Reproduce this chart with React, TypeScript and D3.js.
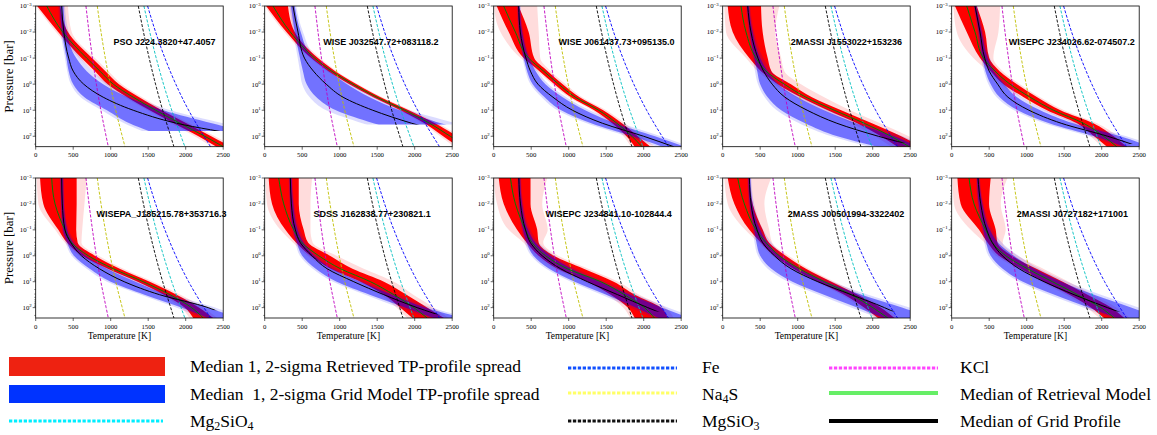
import React from 'react';
import * as d3 from 'd3';

// ---------- data ----------
const NAMES = [
  'PSO J224.3820+47.4057',
  'WISE J032547.72+083118.2',
  'WISE J061437.73+095135.0',
  '2MASSI J1553022+153236',
  'WISEPC J234026.62-074507.2',
  'WISEPA_J185215.78+353716.3',
  'SDSS J162838.77+230821.1',
  'WISEPC J234841.10-102844.4',
  '2MASS J00501994-3322402',
  '2MASSI J0727182+171001',
];

// log10 pressure levels (bar) at which profiles were read
const LOGP = [-3, -2, -1, -0.5, 0, 0.5, 1, 1.5, 2, 2.4];

// Retrieved TP profile (K)
const RED_MED = [
  [147, 360, 680, 857, 1035, 1301, 1600, 1923, 2255, 2500],
  [111, 342, 666, 893, 1177, 1497, 1865, 2198, 2474, 2700],
  [133, 289, 466, 666, 866, 1088, 1399, 1643, 1843, 1976],
  [244, 311, 444, 577, 821, 1110, 1488, 1887, 2243, 2487],
  [200, 311, 423, 578, 778, 1045, 1357, 1757, 2024, 2200],
  [213, 258, 391, 480, 702, 1035, 1434, 1790, 2078, 2234],
  [187, 254, 387, 498, 721, 1010, 1410, 1721, 1988, 2166],
  [223, 290, 424, 513, 692, 982, 1429, 1741, 2009, 2143],
  [200, 289, 445, 578, 756, 1023, 1357, 1713, 2002, 2202],
  [231, 298, 454, 543, 721, 1010, 1343, 1677, 1988, 2166],
];
const RED_LO1 = [
  [20, 300, 610, 790, 960, 1220, 1520, 1840, 2170, 2410],
  [20, 290, 620, 850, 1130, 1450, 1810, 2130, 2380, 2580],
  [40, 200, 400, 610, 810, 1030, 1340, 1580, 1770, 1880],
  [67, 133, 355, 511, 733, 1040, 1400, 1790, 2110, 2330],
  [44, 200, 378, 520, 690, 960, 1270, 1670, 1900, 2070],
  [58, 102, 302, 420, 620, 960, 1360, 1710, 1990, 2100],
  [53, 98, 276, 420, 610, 880, 1276, 1590, 1810, 1970],
  [67, 134, 312, 440, 600, 850, 1250, 1560, 1790, 1880],
  [67, 156, 356, 510, 690, 940, 1270, 1620, 1890, 2070],
  [76, 120, 365, 480, 630, 920, 1230, 1570, 1860, 2030],
];
const RED_HI1 = [
  [330, 430, 750, 930, 1110, 1380, 1680, 2010, 2340, 2600],
  [310, 400, 710, 940, 1225, 1545, 1920, 2270, 2570, 2820],
  [330, 466, 540, 720, 920, 1145, 1460, 1710, 1920, 2090],
  [511, 533, 600, 650, 910, 1190, 1580, 1990, 2380, 2650],
  [333, 445, 500, 640, 870, 1140, 1450, 1890, 2160, 2330],
  [546, 546, 540, 560, 790, 1120, 1520, 1880, 2180, 2367],
  [454, 454, 520, 580, 870, 1170, 1590, 1890, 2170, 2390],
  [491, 491, 580, 600, 800, 1200, 1600, 1880, 2230, 2320],
  [356, 400, 534, 620, 840, 1110, 1450, 1800, 2110, 2290],
  [520, 498, 587, 610, 800, 1130, 1480, 1810, 2130, 2300],
];
const RED_LO2 = [
  [0, 270, 580, 760, 930, 1190, 1490, 1800, 2120, 2350],
  [0, 260, 600, 830, 1110, 1430, 1790, 2100, 2340, 2530],
  [0, 90, 360, 580, 780, 1000, 1310, 1550, 1730, 1830],
  [22, 44, 311, 466, 690, 980, 1340, 1720, 2030, 2250],
  [22, 67, 289, 480, 650, 920, 1230, 1620, 1850, 2000],
  [13, 36, 260, 390, 580, 920, 1320, 1670, 1940, 2050],
  [9, 31, 210, 380, 570, 840, 1230, 1540, 1760, 1900],
  [0, 45, 200, 400, 560, 810, 1200, 1510, 1730, 1820],
  [22, 67, 300, 480, 660, 910, 1240, 1580, 1850, 2020],
  [9, 31, 255, 440, 590, 880, 1190, 1520, 1800, 1970],
];
const RED_HI2 = [
  [430, 480, 790, 970, 1150, 1420, 1720, 2050, 2390, 2650],
  [400, 440, 740, 960, 1245, 1570, 1950, 2310, 2620, 2880],
  [580, 600, 620, 760, 960, 1180, 1500, 1750, 1970, 2150],
  [755, 700, 780, 822, 1044, 1354, 1700, 2100, 2480, 2750],
  [645, 623, 556, 680, 910, 1180, 1500, 1940, 2220, 2400],
  [680, 650, 620, 610, 840, 1170, 1570, 1930, 2240, 2420],
  [632, 610, 610, 640, 960, 1320, 1720, 1980, 2260, 2450],
  [714, 647, 720, 660, 860, 1260, 1660, 1940, 2290, 2400],
  [645, 556, 620, 660, 880, 1150, 1490, 1850, 2160, 2350],
  [743, 654, 720, 680, 880, 1220, 1560, 1880, 2200, 2370],
];

// Grid model TP profile (K)
const BLUE_MED = [
  [346, 375, 440, 500, 640, 900, 1300, 1880, 2800, 3400],
  [377, 444, 530, 650, 820, 1045, 1440, 1960, 2600, 3000],
  [333, 355, 430, 490, 590, 790, 1050, 1450, 2000, 2400],
  [333, 377, 470, 545, 660, 830, 1126, 1522, 2076, 2600],
  [311, 378, 440, 500, 613, 750, 1030, 1460, 2080, 2500],
  [346, 355, 390, 470, 610, 850, 1180, 1650, 2300, 2600],
  [342, 356, 409, 476, 632, 832, 1188, 1588, 2033, 2450],
  [335, 357, 424, 491, 647, 893, 1250, 1652, 2054, 2400],
  [356, 378, 458, 534, 690, 912, 1268, 1713, 2157, 2450],
  [351, 387, 467, 543, 676, 899, 1232, 1632, 2077, 2450],
];
const BLUE_LO1 = [
  [320, 350, 410, 440, 500, 650, 950, 1250, 1700, 2100],
  [350, 400, 470, 510, 560, 690, 950, 1450, 2000, 2400],
  [320, 340, 400, 445, 520, 680, 900, 1300, 1850, 2250],
  [320, 360, 420, 460, 500, 600, 780, 1100, 1530, 2060],
  [300, 360, 410, 450, 520, 640, 880, 1300, 1900, 2300],
  [330, 340, 365, 420, 510, 720, 1000, 1450, 1950, 2300],
  [330, 340, 380, 430, 500, 680, 960, 1400, 1880, 2250],
  [325, 340, 390, 440, 530, 740, 1080, 1500, 1900, 2200],
  [340, 360, 420, 450, 500, 650, 930, 1350, 1800, 2150],
  [335, 360, 420, 460, 520, 680, 950, 1370, 1830, 2200],
];
const BLUE_HI1 = [
  [370, 410, 540, 680, 900, 1230, 1700, 2350, 3000, 3500],
  [400, 480, 640, 860, 1100, 1400, 1800, 2350, 2900, 3300],
  [350, 380, 470, 560, 690, 920, 1220, 1620, 2150, 2550],
  [350, 400, 500, 600, 740, 1000, 1350, 1780, 2290, 2600],
  [330, 400, 480, 560, 700, 870, 1180, 1620, 2250, 2650],
  [365, 375, 420, 500, 660, 950, 1330, 1750, 2300, 2700],
  [360, 380, 440, 520, 660, 900, 1280, 1700, 2150, 2650],
  [355, 380, 460, 560, 760, 1040, 1420, 1820, 2250, 2600],
  [370, 400, 500, 600, 760, 1010, 1380, 1850, 2400, 2800],
  [365, 410, 510, 620, 830, 1100, 1460, 1900, 2400, 2750],
];
const BLUE_LO2 = [
  [300, 330, 390, 420, 470, 600, 880, 1180, 1600, 2000],
  [330, 380, 440, 470, 500, 600, 820, 1300, 1800, 2200],
  [310, 330, 385, 425, 490, 640, 850, 1240, 1780, 2180],
  [310, 345, 400, 430, 470, 560, 720, 1020, 1450, 1950],
  [290, 345, 390, 430, 490, 600, 830, 1240, 1830, 2230],
  [320, 330, 350, 400, 480, 680, 950, 1400, 1880, 2230],
  [320, 330, 365, 410, 470, 640, 910, 1340, 1800, 2180],
  [315, 330, 370, 415, 500, 700, 1030, 1440, 1830, 2130],
  [330, 345, 400, 425, 470, 600, 870, 1280, 1720, 2080],
  [325, 345, 400, 435, 490, 640, 900, 1300, 1760, 2130],
];
const BLUE_HI2 = [
  [390, 440, 600, 760, 980, 1330, 1800, 2500, 3200, 3700],
  [420, 510, 690, 920, 1170, 1480, 1920, 2550, 3100, 3500],
  [360, 395, 490, 590, 730, 970, 1280, 1700, 2230, 2620],
  [365, 420, 540, 650, 800, 1070, 1430, 1880, 2400, 2700],
  [345, 420, 510, 600, 750, 930, 1250, 1700, 2330, 2750],
  [375, 385, 440, 540, 720, 1010, 1400, 1830, 2400, 2800],
  [370, 395, 470, 560, 710, 960, 1350, 1780, 2230, 2750],
  [365, 395, 490, 600, 810, 1100, 1490, 1900, 2330, 2700],
  [380, 420, 540, 650, 820, 1080, 1460, 1940, 2500, 2900],
  [375, 425, 545, 670, 890, 1170, 1540, 1990, 2500, 2850],
];
// deepest log10 P covered by the grid band / grid median line
const BLUE_CUT = [1.8, 1.55, 2.4, 2.4, 2.4, 2.4, 2.4, 2.4, 2.4, 2.4];
const GRID_END = [1.8, 1.55, 2.4, 2.25, 2.3, 2.1, 2.26, 2.15, 2.15, 2.15];

// condensation curves (K) at log10 P levels
const COND_LOGP = [-3, -2, -1, 0, 1, 2, 2.4];
const COND_KCL = [670, 711, 757, 809, 869, 939, 968];
const COND_NA2S = [821, 871, 928, 993, 1067, 1154, 1190];
const COND_MGSIO3 = [1368, 1437, 1513, 1598, 1693, 1800, 1843];
const COND_MG2SIO4 = [1443, 1521, 1607, 1704, 1814, 1938, 1989];
const COND_FE = [1492, 1599, 1723, 1868, 2039, 2244, 2331];

const X_TICKS = [0, 500, 1000, 1500, 2000, 2500];
const Y_DECADES = [-3, -2, -1, 0, 1, 2];

// ---------- layout ----------
const W = 1157;
const H = 435;
const COL_LEFT0 = 35.7;
const COL_STEP = 229;
const PW = 187.5;
const ROW_TOP = [6, 178];
const ROW_H = [140.7, 140];
const TITLE_FRAC = [0.687, 0.62, 0.655, 0.66, 0.64, 0.671, 0.573, 0.613, 0.658, 0.644];

const SERIF = '"Liberation Serif", "Times New Roman", serif';
const SANS = '"Liberation Sans", Arial, sans-serif';

const condSeries = [
  { t: COND_KCL, color: '#bf00bf' },
  { t: COND_NA2S, color: '#bfbf00' },
  { t: COND_MGSIO3, color: '#000000' },
  { t: COND_MG2SIO4, color: '#00bfbf' },
  { t: COND_FE, color: '#0000ff' },
];

function Panel({ idx }: { idx: number }) {
  const col = idx % 5;
  const row = Math.floor(idx / 5);
  const x0 = COL_LEFT0 + COL_STEP * col;
  const y0 = ROW_TOP[row];
  const h = ROW_H[row];
  const xs = d3.scaleLinear().domain([0, 2500]).range([x0, x0 + PW]);
  const ys = d3.scaleLinear().domain([-3, 2.4]).range([y0, y0 + h]);

  const band = (lo: number[], hi: number[]) =>
    d3
      .area<number>()
      .y((d) => ys(d))
      .x0((_, i) => xs(lo[i]))
      .x1((_, i) => xs(hi[i]))
      .curve(d3.curveMonotoneY)(LOGP) || '';
  const line = (t: number[], lp: number[]) =>
    d3
      .line<number>()
      .y((d) => ys(d))
      .x((_, i) => xs(t[i]))
      .curve(d3.curveMonotoneY)(lp) || '';

  const clip = `clip-${idx}`;
  const clipB = `clipb-${idx}`;
  const clipG = `clipg-${idx}`;

  const minor: number[] = [];
  Y_DECADES.forEach((d) => {
    for (let m = 2; m <= 9; m++) {
      const v = d + Math.log10(m);
      if (v <= 2.4) minor.push(v);
    }
  });

  return (
    <g>
      <defs>
        <clipPath id={clip}>
          <rect x={x0} y={y0} width={PW} height={h} />
        </clipPath>
        <clipPath id={clipB}>
          <rect x={x0} y={y0} width={PW} height={ys(BLUE_CUT[idx]) - y0} />
        </clipPath>
        <clipPath id={clipG}>
          <rect x={x0} y={y0} width={PW} height={ys(GRID_END[idx]) - y0} />
        </clipPath>
      </defs>
      <g clipPath={`url(#${clip})`}>
        <path d={band(RED_LO2[idx], RED_HI2[idx])} fill="#ffdcdc" />
        <path d={band(RED_LO1[idx], RED_HI1[idx])} fill="#ff0000" />
        <g clipPath={`url(#${clipB})`}>
          <path d={band(BLUE_LO2[idx], BLUE_HI2[idx])} fill="#0000ff" fillOpacity={0.14} />
          <path d={band(BLUE_LO1[idx], BLUE_HI1[idx])} fill="#0000ff" fillOpacity={0.48} />
        </g>
        {condSeries.map((c, k) => (
          <path
            key={k}
            d={line(c.t, COND_LOGP)}
            fill="none"
            stroke={c.color}
            strokeWidth={0.9}
            strokeDasharray="3,1.6"
          />
        ))}
        <path d={line(RED_MED[idx], LOGP)} fill="none" stroke="#008000" strokeWidth={1} />
        <g clipPath={`url(#${clipG})`}>
          <path d={line(BLUE_MED[idx], LOGP)} fill="none" stroke="#000000" strokeWidth={1} />
        </g>
      </g>
      <rect x={x0} y={y0} width={PW} height={h} fill="none" stroke="#000" strokeWidth={0.8} />
      {X_TICKS.map((t) => (
        <g key={t}>
          <line x1={xs(t)} x2={xs(t)} y1={y0 + h} y2={y0 + h + 3} stroke="#000" strokeWidth={0.6} />
          <text x={xs(t)} y={y0 + h + 10.5} fontSize={6.8} fontFamily={SERIF} textAnchor="middle">
            {t}
          </text>
        </g>
      ))}
      {Y_DECADES.map((d) => (
        <g key={d}>
          <line x1={x0 - 3} x2={x0} y1={ys(d)} y2={ys(d)} stroke="#000" strokeWidth={0.6} />
          <text x={x0 - 4} y={ys(d) + 2.4} fontSize={6.8} fontFamily={SERIF} textAnchor="end">
            10
            <tspan dy={-2.8} fontSize={4.8}>
              {d < 0 ? '\u2212' + Math.abs(d) : String(d)}
            </tspan>
          </text>
        </g>
      ))}
      {minor.map((v, k) => (
        <line key={k} x1={x0 - 1.6} x2={x0} y1={ys(v)} y2={ys(v)} stroke="#000" strokeWidth={0.4} />
      ))}
      <text
        x={x0 + PW * TITLE_FRAC[idx]}
        y={y0 + 39}
        fontSize={9}
        fontWeight="bold"
        fontFamily={SANS}
        textAnchor="middle"
      >
        {NAMES[idx]}
      </text>
      {col === 0 && (
        <text
          transform={`translate(${x0 - 23},${y0 + h / 2}) rotate(-90)`}
          fontSize={13}
          fontFamily={SERIF}
          textAnchor="middle"
        >
          Pressure [bar]
        </text>
      )}
      {row === 1 && (
        <text x={x0 + PW / 2 - 10} y={y0 + h + 21} fontSize={9.5} fontFamily={SERIF} textAnchor="middle">
          Temperature [K]
        </text>
      )}
    </g>
  );
}

function Legend() {
  const fs = 17.5;
  return (
    <g fontFamily={SERIF} fontSize={fs} fill="#000">
      <rect x={9} y={357} width={156} height={19} fill="#ee2211" />
      <text x={190} y={372}>Median 1, 2-sigma Retrieved TP-profile spread</text>
      <rect x={9} y={385} width={156} height={18} fill="#0033ff" />
      <text x={190} y={400} style={{ whiteSpace: 'pre' }}>
        {'Median  1, 2-sigma Grid Model TP-profile spread'}
      </text>
      <line x1={9} x2={163} y1={421} y2={421} stroke="#00eeff" strokeWidth={3} strokeDasharray="3.3,1.6" />
      <text x={190} y={427}>
        Mg<tspan fontSize={12} dy={3}>2</tspan>
        <tspan dy={-3}>SiO</tspan>
        <tspan fontSize={12} dy={3}>4</tspan>
      </text>

      <line x1={568} x2={677} y1={368} y2={368} stroke="#1150ff" strokeWidth={3} strokeDasharray="3.3,1.6" />
      <text x={702} y={373}>Fe</text>
      <line x1={568} x2={677} y1={393} y2={393} stroke="#ffff66" strokeWidth={3} strokeDasharray="3.3,1.6" />
      <text x={702} y={400}>
        Na<tspan fontSize={12} dy={3}>4</tspan>
        <tspan dy={-3}>S</tspan>
      </text>
      <line x1={568} x2={677} y1={421} y2={421} stroke="#111111" strokeWidth={3} strokeDasharray="3.3,1.6" />
      <text x={702} y={427}>
        MgSiO<tspan fontSize={12} dy={3}>3</tspan>
      </text>

      <line x1={829} x2={938} y1={368} y2={368} stroke="#ff44ff" strokeWidth={3} strokeDasharray="3.3,1.6" />
      <text x={960} y={373}>KCl</text>
      <line x1={829} x2={938} y1={393} y2={393} stroke="#66ee66" strokeWidth={4} />
      <text x={960} y={400}>Median of Retrieval Model</text>
      <line x1={829} x2={938} y1={421} y2={421} stroke="#000000" strokeWidth={4} />
      <text x={960} y={427}>Median of Grid Profile</text>
    </g>
  );
}

export default function App() {
  const idxs = d3.range(10);
  return (
    <svg
      width={W}
      height={H}
      viewBox={`0 0 ${W} ${H}`}
      style={{ position: 'absolute', left: 0, top: 0, background: '#fff' }}
    >
      <rect x={0} y={0} width={W} height={H} fill="#fff" />
      {idxs.map((i) => (
        <Panel key={i} idx={i} />
      ))}
      <Legend />
    </svg>
  );
}
